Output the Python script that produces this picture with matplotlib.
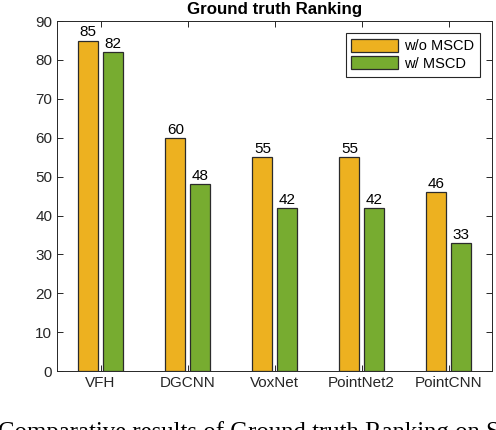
import matplotlib
matplotlib.use('Agg')
import matplotlib.pyplot as plt
import numpy as np

methods = ['VFH', 'DGCNN', 'VoxNet', 'PointNet2', 'PointCNN']
wo_mscd = [85, 60, 55, 55, 46]
w_mscd = [82, 48, 42, 42, 33]

plt.rcParams['font.family'] = ['Liberation Sans', 'DejaVu Sans']

fig = plt.figure(figsize=(4.96, 4.30), dpi=100)
ax = fig.add_axes([0.115, 0.137, 0.877, 0.814])

x = np.arange(1, len(methods) + 1)
w = 0.23
off = 0.14
b1 = ax.bar(x - off, wo_mscd, w, color='#EDB120', edgecolor='#2b2b2b',
            linewidth=0.9, label='w/o MSCD')
b2 = ax.bar(x + off, w_mscd, w, color='#77AC30', edgecolor='#2b2b2b',
            linewidth=0.9, label='w/ MSCD')

for bars, vals in ((b1, wo_mscd), (b2, w_mscd)):
    for r, v in zip(bars, vals):
        ax.text(r.get_x() + r.get_width() / 2, v + 0.3, str(v),
                ha='center', va='bottom', fontsize=11)

ax.set_xlim(0.5, 5.5)
ax.set_ylim(0, 90)
ax.set_yticks(range(0, 91, 10))
ax.set_xticks(x)
ax.set_xticklabels(methods)
ax.tick_params(direction='in', top=True, right=True, labelsize=11,
               colors='#262626', length=4, width=0.7)
for s in ax.spines.values():
    s.set_color('#262626')
    s.set_linewidth(0.7)
ax.set_title('Ground truth Ranking', fontsize=12.2, fontweight='bold', pad=5)

leg = ax.legend(loc='upper right', bbox_to_anchor=(0.972, 0.966),
                fontsize=10.5, fancybox=False, framealpha=1,
                handlelength=3.2, handleheight=1.0, handletextpad=0.4,
                borderpad=0.4, labelspacing=0.2, borderaxespad=0.0)
leg.get_frame().set_edgecolor('#262626')
leg.get_frame().set_linewidth(0.8)

fig.text(-0.005, 0.022, 'Comparative results of Ground truth Ranking on S',
         family=['Liberation Serif', 'DejaVu Serif'], fontsize=17.8,
         ha='left', va='top')

fig.savefig('out.png', dpi=100)
